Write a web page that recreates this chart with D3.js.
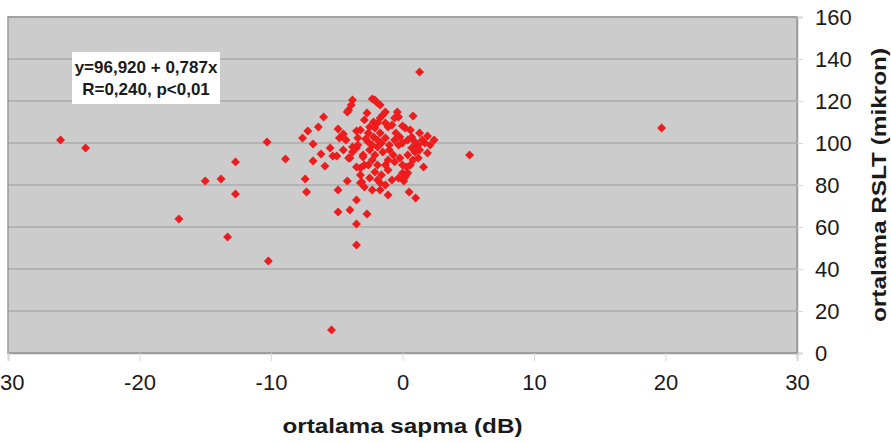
<!DOCTYPE html>
<html lang="tr">
<head>
  <meta charset="UTF-8">
  <title>ortalama sapma - ortalama RSLT</title>
  <script src="https://d3js.org/d3.v7.min.js"></script>
  <style>
    body {
      margin: 0;
      padding: 0;
      background-color: #ffffff;
      font-family: 'Liberation Sans', Arial, sans-serif;
    }
  </style>
</head>
<body>
  <script>
    // ortalama sapma (dB)
    const sapma = [
      -26.0, -24.1, 1.3, 19.7, 5.1, -10.3, -8.9, -12.7, -15.0, -13.8,
      -12.7, -17.0, -13.3, -10.2, -5.4, -6.8, -6.2, -5.3, -5.0, -5.9,
      -7.4, -7.3, -4.2, -4.9, -3.5, -4.9, -4.0, -2.7, -3.5, -3.5,
      -3.2, 0.5, 1.0, 1.6, -3.8, -3.9, -4.1, -4.2, -2.3, -2.1,
      -1.9, -1.7, -6.0, -6.4, -7.2, -7.6, -6.8, -4.9, -4.8, -4.5,
      -3.5, -3.2, -0.4, -0.3, 0.8, -1.3, -1.5, -1.7, 0.0, 0.6,
      1.3, 1.9, 2.4, 1.9, -3.8, -4.1, -3.0, 1.7, 1.1, 0.7,
      0.95, 0.6, 0.3, 0.4, 0.1, -1.9, -2.2, -2.5, -2.1, -1.3,
      -1.1, 0.2, -2.6, -2.2, -1.9, -1.6, -1.9, -2.3, -2.6, -0.5,
      -0.2, -0.6, -0.3, 0.0, 0.4, 0.7, 0.95, 1.2, 1.5, -1.0,
      -0.7, -1.1, -1.3, -0.6, -0.2, 0.0, -0.3, 0.2, -1.3, -1.7,
      -1.9, -2.6, -3.8, -3.5, -3.4, -3.0, -2.9, -3.2, -3.5, -4.0,
      -3.1, -3.2, -2.5, -2.1, -2.3, -1.9, -2.1, -1.6, -2.5, -1.1,
      -0.8, -2.8, -1.7, -1.3, -1.0, -1.5, -2.9, -2.7, -0.8, -0.6,
      -5.5, -4.5, -4.3, -3.4, -1.7, -1.1, -2.3, -2.9, 0.4, 0.8,
      1.2, 0.0, 1.3, 2.1
    ];
    // ortalama RSLT (mikron)
    const rslt = [
      101.4, 97.6, 133.8, 107.1, 94.3, 100.5, 92.4, 91.0, 81.9, 82.9,
      75.7, 63.8, 55.2, 43.8, 11.0, 91.4, 94.8, 93.8, 93.8, 89.0,
      82.9, 76.7, 81.9, 77.6, 72.9, 67.1, 68.1, 66.2, 61.4, 51.4,
      81.0, 76.7, 73.8, 88.6, 120.5, 118.1, 115.7, 114.8, 121.0, 120.5,
      119.0, 118.1, 112.4, 107.6, 105.7, 102.4, 99.5, 106.7, 102.4, 104.3,
      105.7, 106.2, 114.8, 112.4, 112.9, 114.8, 113.3, 111.9, 108.1, 106.2,
      104.8, 103.3, 101.4, 95.2, 98.1, 92.9, 94.3, 100.0, 99.0, 97.6,
      95.7, 89.5, 88.6, 85.7, 81.9, 109.5, 110.0, 107.6, 107.1, 109.5,
      107.6, 107.1, 104.8, 102.9, 101.4, 100.0, 98.1, 99.0, 100.5, 104.8,
      102.9, 101.4, 99.0, 100.0, 101.4, 102.9, 100.5, 99.0, 101.4, 96.7,
      94.3, 91.9, 89.5, 91.0, 92.9, 85.7, 83.3, 83.8, 80.0, 81.0,
      82.4, 89.5, 95.7, 97.6, 99.0, 93.3, 89.5, 88.1, 88.6, 92.9,
      81.4, 84.8, 96.7, 94.3, 91.9, 89.5, 86.2, 84.8, 83.3, 87.1,
      82.4, 101.9, 104.8, 102.4, 99.0, 95.7, 111.0, 114.3, 108.6, 111.9,
      97.6, 96.7, 101.4, 102.4, 77.6, 75.2, 77.6, 79.0, 94.3, 91.9,
      92.9, 89.5, 96.7, 99.0
    ];

    const xTicks = [-30, -20, -10, 0, 10, 20, 30];
    const yTicks = [0, 20, 40, 60, 80, 100, 120, 140, 160];
    const regressionText = ["y=96,920 + 0,787x", "R=0,240, p<0,01"];

    const width = 891;
    const height = 443;
    const plot = { left: 8, right: 797, top: 17, bottom: 353 };

    const x = d3.scaleLinear().domain([-30, 30]).range([plot.left, plot.right]);
    const y = d3.scaleLinear().domain([0, 160]).range([plot.bottom, plot.top]);

    const svg = d3.create("svg")
        .attr("width", width)
        .attr("height", height)
        .attr("viewBox", [0, 0, width, height])
        .style("display", "block")
        .style("font-family", "'Liberation Sans', Arial, sans-serif");

    // plot background
    svg.append("rect")
        .attr("x", plot.left)
        .attr("y", plot.top)
        .attr("width", plot.right - plot.left)
        .attr("height", plot.bottom - plot.top)
        .attr("fill", "#cccccc");

    // horizontal gridlines
    svg.append("g")
        .selectAll("line")
        .data(yTicks)
        .join("line")
          .attr("x1", plot.left)
          .attr("x2", plot.right)
          .attr("y1", d => y(d))
          .attr("y2", d => y(d))
          .attr("stroke", "#ababab")
          .attr("stroke-width", 1.5);

    // frame
    svg.append("rect")
        .attr("x", plot.left)
        .attr("y", plot.top)
        .attr("width", plot.right - plot.left)
        .attr("height", plot.bottom - plot.top)
        .attr("fill", "none")
        .attr("stroke", "#9a9a9a")
        .attr("stroke-width", 1.5);

    // x axis (plain hyphen for negatives, like the original)
    const xAxis = svg.append("g")
        .attr("transform", `translate(0,${plot.bottom})`)
        .call(d3.axisBottom(x).tickValues(xTicks).tickSize(8).tickPadding(13).tickFormat(d => `${d}`));
    xAxis.select(".domain").attr("stroke", "#9a9a9a").attr("stroke-width", 1.5);
    xAxis.selectAll(".tick line").attr("stroke", "#d9d9d9");
    xAxis.selectAll(".tick text")
        .attr("fill", "#1a1a1a")
        .style("font-size", "22px");

    // y axis on the right
    const yAxis = svg.append("g")
        .attr("transform", `translate(${plot.right},0)`)
        .call(d3.axisRight(y).tickValues(yTicks).tickSize(6).tickPadding(12).tickFormat(d => `${d}`));
    yAxis.select(".domain").attr("stroke", "#9a9a9a").attr("stroke-width", 1.5);
    yAxis.selectAll(".tick line").attr("stroke", "#d9d9d9");
    yAxis.selectAll(".tick text")
        .attr("fill", "#1a1a1a")
        .style("font-size", "22px");

    // axis titles
    svg.append("text")
        .attr("x", (plot.left + plot.right) / 2)
        .attr("y", 425)
        .attr("text-anchor", "middle")
        .attr("dominant-baseline", "central")
        .attr("font-weight", "bold")
        .attr("font-size", "21px")
        .attr("textLength", 240)
        .attr("lengthAdjust", "spacingAndGlyphs")
        .attr("fill", "#1a1a1a")
        .text("ortalama sapma (dB)");

    svg.append("text")
        .attr("transform", `translate(879,${(plot.top + plot.bottom) / 2}) rotate(-90)`)
        .attr("text-anchor", "middle")
        .attr("dominant-baseline", "central")
        .attr("font-weight", "bold")
        .attr("font-size", "20px")
        .attr("textLength", 274)
        .attr("lengthAdjust", "spacingAndGlyphs")
        .attr("fill", "#1a1a1a")
        .text("ortalama RSLT (mikron)");

    // points
    const points = sapma.map((d, i) => ({ sd: d, t: rslt[i] }));
    svg.append("g")
        .attr("fill", "#ee1c1c")
      .selectAll("path")
      .data(points)
      .join("path")
        .attr("transform", d => `translate(${x(d.sd)},${y(d.t)}) rotate(45)`)
        .attr("d", d3.symbol(d3.symbolSquare, 40));

    // regression label
    const box = svg.append("g");
    box.append("rect")
        .attr("x", 72)
        .attr("y", 52)
        .attr("width", 148)
        .attr("height", 52)
        .attr("fill", "#ffffff");
    box.selectAll("text")
      .data(regressionText)
      .join("text")
        .attr("x", 146)
        .attr("y", (d, i) => 67 + i * 22)
        .attr("text-anchor", "middle")
        .attr("dominant-baseline", "central")
        .attr("font-weight", "bold")
        .attr("font-size", "17px")
        .attr("fill", "#1a1a1a")
        .text(d => d);

    document.body.appendChild(svg.node());
  </script>
</body>
</html>
